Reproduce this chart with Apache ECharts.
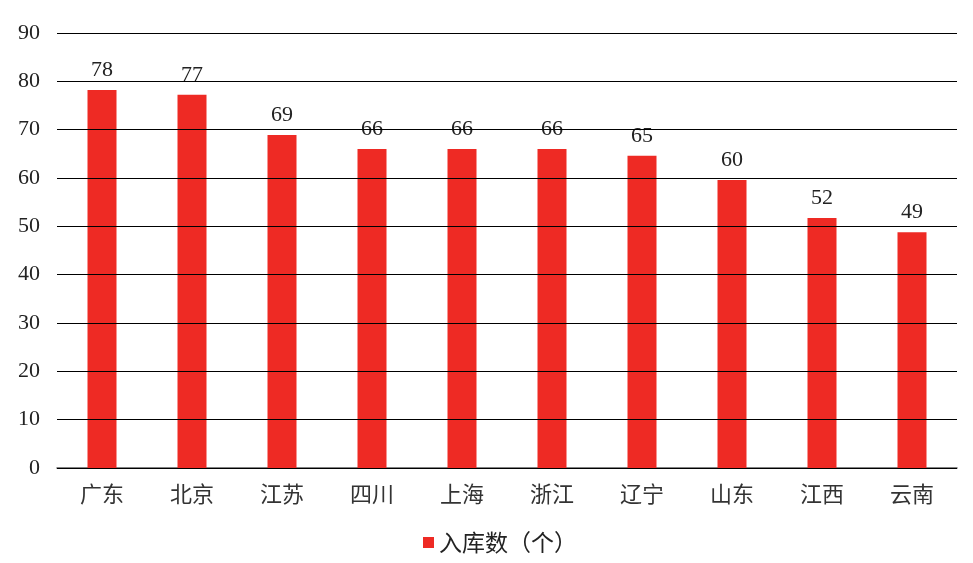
<!DOCTYPE html>
<html><head><meta charset="utf-8">
<script src="https://cdn.jsdelivr.net/npm/echarts@6/dist/echarts.min.js"></script>
<style>html,body{margin:0;padding:0;background:#fff}#c{width:973px;height:563px}</style>
</head><body><div id="c"></div>
<script>
var categories = ['广东','北京','江苏','四川','上海','浙江','辽宁','山东','江西','云南'];
var values = [78.2, 77.2, 68.9, 66.0, 66.0, 66.0, 64.6, 59.6, 51.7, 48.8];
var seriesName = '入库数（个）';
var yMin = 0, yMax = 90, yStep = 10;

var serif = '"Liberation Serif","Noto Sans CJK SC",serif';
var cjk = '"Noto Sans CJK SC",sans-serif';
var chart = echarts.init(document.getElementById('c'));
chart.setOption({
  animation: false,
  grid: {left: 57, right: 16, top: 33, bottom: 95},
  legend: {
    bottom: 4, left: 418,
    itemWidth: 11, itemHeight: 11, icon: 'rect', itemGap: 8,
    textStyle: {fontFamily: cjk, fontSize: 23, color: '#222'},
    data: [seriesName]
  },
  xAxis: {
    type: 'category', data: categories,
    axisLine: {lineStyle: {color: '#595959', width: 1.5}},
    axisTick: {show: false},
    axisLabel: {fontFamily: cjk, fontSize: 22, color: '#333', margin: 15}
  },
  yAxis: {
    type: 'value', min: yMin, max: yMax, interval: yStep, z: 3,
    axisLine: {show: false}, axisTick: {show: false},
    splitLine: {lineStyle: {color: '#000', width: 1}},
    axisLabel: {fontFamily: serif, fontSize: 22, color: '#222', margin: 17}
  },
  series: [{
    name: seriesName, type: 'bar', data: values, barWidth: 29,
    itemStyle: {color: '#EE2A24'},
    label: {show: true, position: 'top', distance: 9, fontFamily: serif, fontSize: 22, color: '#222',
      formatter: function(p){ return Math.round(p.value); }}
  }]
});
</script></body></html>
